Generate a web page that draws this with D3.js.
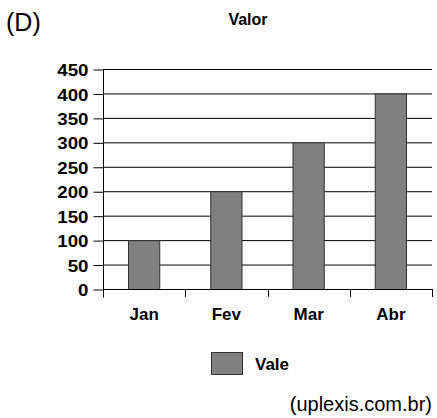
<!DOCTYPE html>
<html><head><meta charset="utf-8">
<script src="https://cdn.jsdelivr.net/npm/d3@7"></script>
<style>body{margin:0;background:#fff}svg{display:block}text{font-family:"Liberation Sans",Arial,sans-serif;fill:#000}</style>
</head><body>
<script>
const categories = ["Jan","Fev","Mar","Abr"];
const values = [100,200,300,400];
const yTicks = [0,50,100,150,200,250,300,350,400,450];
const seriesName = "Vale";
const title = "Valor";
const label = "(D)";
const source = "(uplexis.com.br)";

const W=437,H=418;
const svg=d3.select("body").append("svg").attr("width",W).attr("height",H);
const x0=103,x1=432,yTop=69,yBot=289;
const x=d3.scaleBand().domain(categories).range([x0,x1]).paddingInner(0.62).paddingOuter(0.31);
const y=d3.scaleLinear().domain([0,450]).range([yBot,yTop]);
const FF="'Liberation Sans',Arial,sans-serif";

// gridlines
svg.append("g").selectAll("line").data(yTicks).join("line")
 .attr("x1",x0).attr("x2",x1).attr("y1",d=>y(d)+0.5).attr("y2",d=>y(d)+0.5)
 .attr("stroke","#000").attr("stroke-width",1);

// bars
svg.append("g").selectAll("rect").data(values).join("rect")
 .attr("x",(d,i)=>x(categories[i])).attr("width",x.bandwidth())
 .attr("y",d=>y(d)+0.5).attr("height",d=>yBot-y(d))
 .attr("fill","#808080").attr("stroke","#333").attr("stroke-width",1);

// y axis
const sx=1.1;
const ya=svg.append("g").attr("transform",`translate(${x0+0.5},0.5)`)
 .call(d3.axisLeft(y).tickValues(yTicks).tickSize(10).tickPadding(4));
ya.select(".domain").attr("d",`M0,${yTop}V${yBot+8}`);
ya.selectAll("text").style("font-size","17px").style("font-weight","bold").style("font-family",FF)
 .attr("dy","0.36em").attr("x",-15/sx).attr("transform",`scale(${sx},1)`);

// x axis
const xa=svg.append("g").attr("transform",`translate(0,${yBot+0.5})`)
 .call(d3.axisBottom(x).tickSize(0).tickPadding(18));
xa.select(".domain").attr("d",`M${x0},0H${x1}`);
xa.selectAll("text").style("font-size","17px").style("font-weight","bold").style("font-family",FF);
const step=x.step();
svg.append("g").selectAll("line").data(categories).join("line")
 .attr("x1",(d,i)=>Math.round(x0+step*(i+1))+0.5).attr("x2",(d,i)=>Math.round(x0+step*(i+1))+0.5)
 .attr("y1",yBot).attr("y2",yBot+8).attr("stroke","#000");

svg.selectAll(".tick line").attr("stroke","#000");

// title
svg.append("text").attr("x",248).attr("y",25).attr("text-anchor","middle").style("font-size","16px").style("font-weight","bold").text(title);
svg.append("text").attr("x",6).attr("y",31).style("font-size","25px").text(label);

// legend
svg.append("rect").attr("x",211.5).attr("y",352.5).attr("width",31).attr("height",22).attr("fill","#808080").attr("stroke","#333");
svg.append("text").attr("x",255).attr("y",370).style("font-size","17px").style("font-weight","bold").text(seriesName);

svg.append("text").attr("x",432).attr("y",411).attr("text-anchor","end").style("font-size","20px").text(source);
</script>
</body></html>
